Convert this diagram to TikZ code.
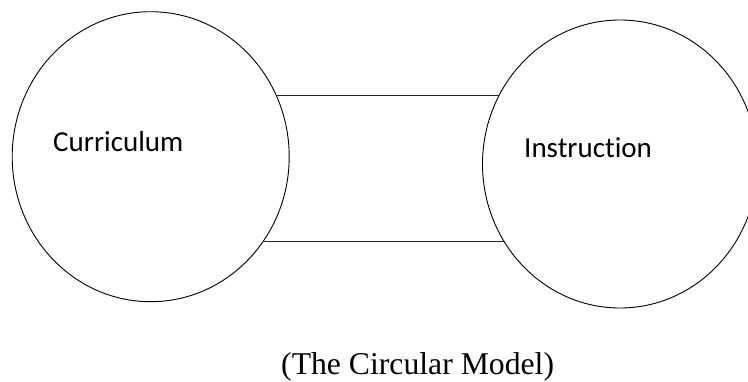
\documentclass[tikz,border=0pt]{standalone}
\usepackage{fontspec}
\setmainfont{Liberation Serif}
\newfontfamily\labelfont[RawFeature=-liga]{Carlito}
\usetikzlibrary{shapes.geometric}
\tikzset{
  bubble/.style={draw=black, line width=0.9pt, ellipse, inner sep=0pt, minimum width=277pt, minimum height=290pt},
  lbl/.style={font=\labelfont\fontsize{29}{33}\selectfont, anchor=base west, inner sep=0pt},
  link/.style={draw=black!85, line width=0.9pt},
  captiontext/.style={font=\fontsize{31.7}{36}\selectfont, anchor=base west, inner sep=0pt}
}
\begin{document}
\begin{tikzpicture}[x=1pt,y=-1pt]
\useasboundingbox (0,0) rectangle (748,381);
\node[bubble] (L) at (150.7,156.7) {};
\node[bubble, minimum width=275pt, minimum height=288pt] (R) at (620,164) {};
\node[lbl] (tl) at (53,151.7) {Curriculum};
\node[lbl] (tr) at (524,157.7) {Instruction};
\draw[link] (L.26.35) -- (R.150.1 |- L.26.35);
\draw[link] (L.-37.65) -- (R.-145.64 |- L.-37.65);
\node[captiontext] (c) at (281,374.5) {(The Circular Model)};
\end{tikzpicture}
\end{document}
